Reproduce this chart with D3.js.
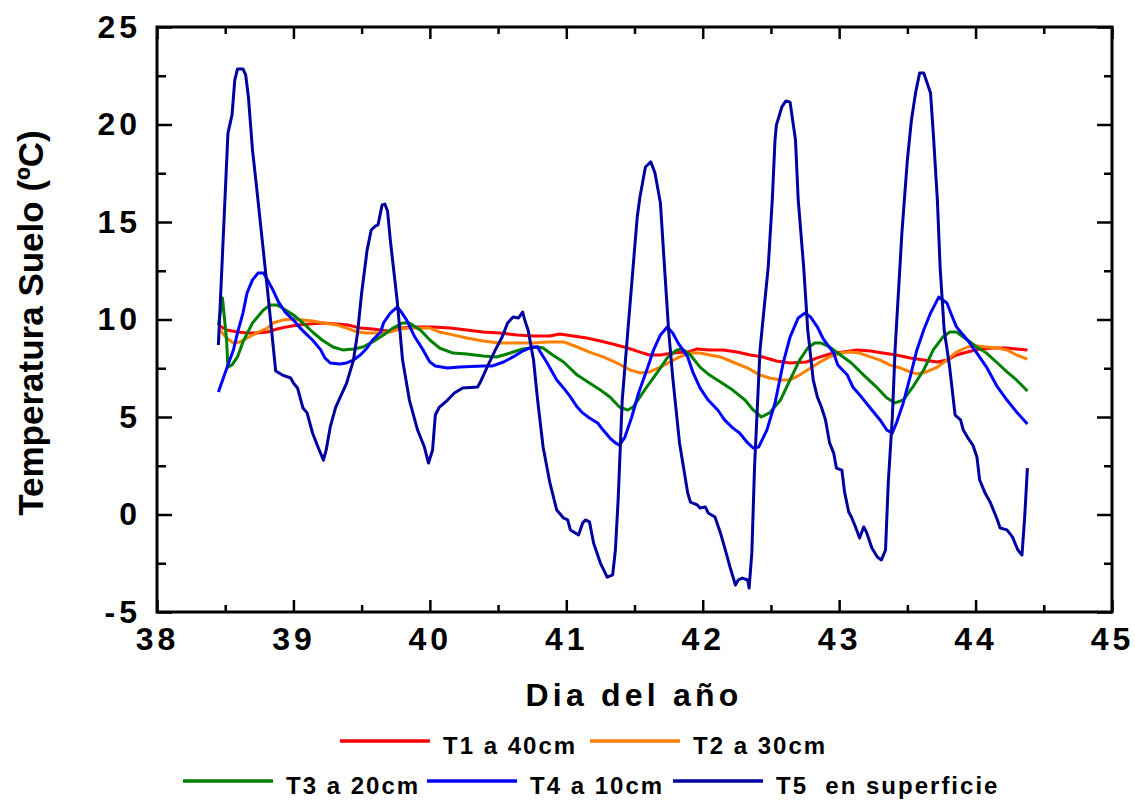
<!DOCTYPE html>
<html>
<head>
<meta charset="utf-8">
<script src="https://cdn.jsdelivr.net/npm/d3@7"></script>
<style>
  body { margin: 0; background: #fff; }
  text { font-family: "Liberation Sans", Arial, Helvetica, sans-serif; font-weight: bold; fill: #000; }
</style>
</head>
<body>
<svg id="chart" width="1135" height="800"></svg>
<script>
// Axis ticks
const xTicks = [38, 39, 40, 41, 42, 43, 44, 45];
const yTicks = [-5, 0, 5, 10, 15, 20, 25];

// Series names and colours
const seriesNames = ["T1 a 40cm", "T2 a 30cm", "T3 a 20cm", "T4 a 10cm", "T5  en superficie"];
const seriesColors = ["#ff0000", "#ff8000", "#008000", "#0000ff", "#0000a0"];

// Soil temperature (ºC) by day of year: [day, temperature]
const t1 = [[38.45,9.72],[38.51,9.46],[38.59,9.36],[38.66,9.31],[38.73,9.31],[38.81,9.36],[38.88,9.51],[38.95,9.62],[39.03,9.72],[39.12,9.77],[39.22,9.82],[39.32,9.77],[39.40,9.72],[39.49,9.56],[39.58,9.51],[39.69,9.41],[39.78,9.56],[39.91,9.62],[40.02,9.62],[40.15,9.56],[40.27,9.46],[40.39,9.36],[40.51,9.31],[40.64,9.21],[40.76,9.15],[40.88,9.15],[40.95,9.26],[41.05,9.15],[41.15,9.05],[41.25,8.90],[41.34,8.74],[41.45,8.54],[41.54,8.33],[41.61,8.18],[41.69,8.18],[41.78,8.28],[41.89,8.33],[41.96,8.49],[42.05,8.44],[42.15,8.44],[42.25,8.33],[42.35,8.18],[42.44,8.08],[42.54,7.87],[42.64,7.77],[42.76,7.82],[42.84,8.03],[42.93,8.23],[43.03,8.33],[43.13,8.44],[43.23,8.38],[43.32,8.28],[43.42,8.18],[43.52,8.03],[43.62,7.92],[43.72,7.82],[43.79,7.92],[43.86,8.18],[43.94,8.33],[44.03,8.49],[44.13,8.54],[44.23,8.54],[44.30,8.49],[44.38,8.44]];

const t2 = [[38.45,9.56],[38.51,9.05],[38.56,8.79],[38.61,8.85],[38.66,9.05],[38.73,9.31],[38.81,9.56],[38.85,9.82],[38.92,9.97],[39.00,10.03],[39.07,9.97],[39.14,9.92],[39.22,9.82],[39.32,9.72],[39.39,9.56],[39.47,9.36],[39.54,9.31],[39.64,9.31],[39.71,9.36],[39.78,9.51],[39.85,9.56],[39.93,9.56],[40.00,9.56],[40.07,9.36],[40.17,9.21],[40.27,9.05],[40.39,8.90],[40.51,8.79],[40.64,8.79],[40.76,8.79],[40.86,8.85],[40.98,8.85],[41.08,8.59],[41.17,8.33],[41.27,8.08],[41.37,7.77],[41.47,7.41],[41.54,7.26],[41.61,7.31],[41.69,7.56],[41.76,7.82],[41.83,8.08],[41.91,8.28],[41.98,8.28],[42.05,8.18],[42.13,8.08],[42.22,7.82],[42.33,7.51],[42.42,7.15],[42.49,7.00],[42.57,6.90],[42.64,6.90],[42.71,7.15],[42.79,7.51],[42.86,7.82],[42.93,8.08],[43.01,8.28],[43.08,8.33],[43.15,8.28],[43.23,8.08],[43.30,7.92],[43.37,7.67],[43.45,7.51],[43.52,7.31],[43.57,7.21],[43.64,7.31],[43.72,7.56],[43.79,7.92],[43.86,8.33],[43.94,8.59],[44.01,8.64],[44.08,8.59],[44.16,8.54],[44.23,8.44],[44.30,8.18],[44.38,7.97]];

const t3 = [[38.45,9.72],[38.48,11.10],[38.51,8.95],[38.52,7.56],[38.55,7.67],[38.59,8.08],[38.63,8.85],[38.70,9.82],[38.78,10.49],[38.83,10.74],[38.88,10.74],[38.92,10.59],[39.00,10.23],[39.07,9.82],[39.14,9.36],[39.21,8.95],[39.29,8.59],[39.36,8.44],[39.44,8.49],[39.51,8.59],[39.58,8.85],[39.66,9.21],[39.73,9.56],[39.80,9.82],[39.85,9.82],[39.93,9.46],[40.00,8.95],[40.07,8.54],[40.17,8.28],[40.27,8.23],[40.39,8.13],[40.49,8.08],[40.59,8.28],[40.68,8.49],[40.79,8.59],[40.83,8.54],[40.90,8.18],[40.98,7.82],[41.08,7.15],[41.17,6.74],[41.25,6.38],[41.32,6.03],[41.39,5.51],[41.45,5.36],[41.49,5.51],[41.54,6.03],[41.60,6.64],[41.67,7.31],[41.74,8.03],[41.81,8.44],[41.85,8.49],[41.91,8.18],[41.98,7.56],[42.05,7.15],[42.13,6.79],[42.22,6.38],[42.31,5.87],[42.37,5.36],[42.43,5.00],[42.49,5.21],[42.57,5.87],[42.64,6.90],[42.71,7.92],[42.77,8.54],[42.82,8.79],[42.87,8.79],[42.93,8.59],[43.01,8.18],[43.09,7.77],[43.18,7.15],[43.28,6.49],[43.35,5.97],[43.41,5.72],[43.47,5.87],[43.54,6.54],[43.62,7.41],[43.69,8.44],[43.76,9.10],[43.81,9.36],[43.86,9.36],[43.92,9.05],[44.01,8.59],[44.08,8.28],[44.16,7.77],[44.23,7.31],[44.30,6.90],[44.38,6.33]];

const t4 = [[38.45,6.28],[38.52,7.67],[38.56,8.44],[38.59,9.31],[38.63,10.33],[38.66,11.36],[38.70,12.03],[38.74,12.38],[38.78,12.38],[38.81,12.03],[38.85,11.51],[38.89,10.90],[38.94,10.38],[39.00,9.97],[39.05,9.56],[39.10,9.21],[39.14,8.95],[39.20,8.44],[39.23,8.03],[39.27,7.77],[39.34,7.72],[39.39,7.77],[39.44,7.92],[39.49,8.18],[39.54,8.54],[39.58,8.95],[39.64,9.36],[39.66,9.82],[39.71,10.33],[39.76,10.64],[39.78,10.49],[39.83,9.97],[39.89,9.10],[39.95,8.44],[40.00,7.82],[40.04,7.62],[40.13,7.51],[40.22,7.56],[40.39,7.62],[40.46,7.62],[40.54,7.82],[40.61,8.08],[40.68,8.38],[40.75,8.59],[40.79,8.59],[40.81,8.33],[40.86,7.77],[40.93,6.90],[40.98,6.49],[41.03,6.03],[41.08,5.51],[41.12,5.21],[41.17,4.95],[41.23,4.69],[41.27,4.33],[41.32,3.92],[41.36,3.67],[41.39,3.56],[41.43,3.97],[41.48,5.00],[41.53,6.23],[41.59,7.41],[41.64,8.44],[41.69,9.21],[41.74,9.62],[41.78,9.31],[41.82,8.79],[41.89,8.08],[41.93,7.26],[41.98,6.49],[42.04,5.87],[42.11,5.36],[42.16,4.85],[42.22,4.44],[42.27,4.18],[42.33,3.67],[42.37,3.41],[42.41,3.46],[42.47,4.33],[42.53,5.72],[42.59,7.77],[42.64,9.10],[42.70,10.08],[42.75,10.33],[42.79,10.13],[42.84,9.62],[42.88,9.05],[42.96,8.28],[42.99,7.67],[43.06,7.15],[43.10,6.54],[43.17,5.97],[43.24,5.36],[43.30,4.85],[43.35,4.33],[43.39,4.18],[43.42,4.69],[43.47,5.72],[43.52,7.05],[43.57,8.44],[43.62,9.46],[43.67,10.33],[43.73,11.15],[43.79,10.85],[43.83,10.13],[43.86,9.62],[43.94,8.95],[44.01,8.28],[44.08,7.56],[44.16,6.54],[44.23,5.87],[44.30,5.26],[44.38,4.64]];

const t5 = [[38.45,8.69],[38.52,19.56],[38.55,20.49],[38.57,22.28],[38.59,22.85],[38.63,22.85],[38.65,22.54],[38.67,21.41],[38.70,18.69],[38.73,16.79],[38.81,11.51],[38.87,7.36],[38.92,7.15],[38.98,7.00],[39.00,6.74],[39.03,6.49],[39.07,5.46],[39.10,5.21],[39.14,4.18],[39.18,3.46],[39.22,2.79],[39.24,3.31],[39.27,4.49],[39.31,5.51],[39.34,5.97],[39.39,6.74],[39.44,7.92],[39.47,9.31],[39.50,11.36],[39.54,13.56],[39.57,14.59],[39.60,14.79],[39.62,14.85],[39.65,15.87],[39.67,15.92],[39.69,15.56],[39.71,14.08],[39.76,11.00],[39.80,7.92],[39.85,5.87],[39.91,4.33],[39.96,3.46],[39.99,2.64],[40.02,3.31],[40.04,5.10],[40.07,5.51],[40.13,5.87],[40.18,6.23],[40.24,6.49],[40.35,6.54],[40.37,6.79],[40.42,7.56],[40.48,8.44],[40.53,9.10],[40.57,9.82],[40.61,10.13],[40.65,10.08],[40.68,10.38],[40.70,9.87],[40.72,9.46],[40.76,7.92],[40.79,5.87],[40.83,3.46],[40.88,1.62],[40.93,0.23],[40.98,-0.18],[41.01,-0.28],[41.03,-0.79],[41.09,-1.05],[41.12,-0.44],[41.14,-0.28],[41.17,-0.38],[41.20,-1.46],[41.25,-2.49],[41.30,-3.21],[41.34,-3.10],[41.36,-1.82],[41.38,0.74],[41.41,5.87],[41.45,9.31],[41.52,15.26],[41.54,16.28],[41.58,17.82],[41.62,18.08],[41.65,17.51],[41.69,15.97],[41.72,12.69],[41.75,9.46],[41.78,7.05],[41.83,3.67],[41.89,1.10],[41.91,0.64],[41.96,0.49],[41.98,0.33],[42.02,0.38],[42.04,0.08],[42.09,-0.13],[42.13,-0.95],[42.16,-1.67],[42.20,-2.69],[42.24,-3.62],[42.26,-3.36],[42.29,-3.26],[42.33,-3.36],[42.34,-3.77],[42.36,-1.97],[42.38,2.44],[42.42,8.44],[42.48,12.69],[42.51,16.13],[42.53,19.21],[42.54,19.97],[42.58,20.90],[42.61,21.21],[42.64,21.15],[42.68,19.21],[42.70,16.13],[42.74,12.69],[42.77,9.46],[42.81,6.90],[42.84,6.03],[42.87,5.51],[42.90,4.85],[42.93,3.67],[42.96,3.15],[42.98,2.38],[43.02,2.28],[43.04,1.15],[43.07,0.13],[43.09,-0.13],[43.12,-0.64],[43.15,-1.21],[43.18,-0.64],[43.20,-0.90],[43.24,-1.72],[43.28,-2.18],[43.31,-2.33],[43.34,-1.82],[43.36,1.62],[43.39,5.00],[43.41,8.44],[43.46,14.44],[43.50,18.18],[43.53,20.23],[43.56,21.62],[43.59,22.64],[43.62,22.64],[43.67,21.62],[43.69,19.56],[43.72,16.13],[43.74,12.69],[43.77,9.46],[43.81,7.56],[43.85,5.10],[43.89,4.85],[43.91,4.33],[43.94,3.97],[43.98,3.56],[44.01,2.95],[44.03,1.77],[44.07,1.10],[44.11,0.59],[44.16,-0.28],[44.18,-0.69],[44.23,-0.79],[44.27,-1.15],[44.31,-1.82],[44.34,-2.08],[44.36,-0.13],[44.38,2.38]];

const series = [t1, t2, t3, t4, t5];

const svg = d3.select("#chart");
const margin = { left: 157, right: 1112, top: 27, bottom: 612 };

const x = d3.scaleLinear().domain([38, 45]).range([margin.left, margin.right]);
const y = d3.scaleLinear().domain([-5, 25]).range([margin.bottom, margin.top]);

// plain hyphen for negative numbers
const intLabel = d => String(d);

const tickFont = g => g.attr("font-family", null).attr("font-size", null)
  .call(s => s.select(".domain").remove())
  .call(s => s.selectAll(".tick line").attr("stroke", "#000").attr("stroke-width", 2.5))
  .call(s => s.selectAll("text")
    .style("font-size", "32px").style("letter-spacing", "4px").attr("fill", "#000"));

const xMinor = d3.range(38.5, 45, 1);
const yMinor = d3.range(-2.5, 25, 5);

// bottom axis
svg.append("g").attr("transform", `translate(0,${margin.bottom})`)
  .call(d3.axisBottom(x).tickValues(xTicks).tickSizeInner(-12).tickSizeOuter(0)
    .tickPadding(15).tickFormat(intLabel))
  .call(tickFont);
svg.append("g").attr("transform", `translate(0,${margin.bottom})`)
  .call(d3.axisBottom(x).tickValues(xMinor).tickSizeInner(-7).tickSizeOuter(0).tickFormat(""))
  .call(tickFont);
// top axis
svg.append("g").attr("transform", `translate(0,${margin.top})`)
  .call(d3.axisTop(x).tickValues(xTicks).tickSizeInner(-12).tickSizeOuter(0).tickFormat(""))
  .call(tickFont);
svg.append("g").attr("transform", `translate(0,${margin.top})`)
  .call(d3.axisTop(x).tickValues(xMinor).tickSizeInner(-7).tickSizeOuter(0).tickFormat(""))
  .call(tickFont);
// left axis
svg.append("g").attr("transform", `translate(${margin.left},0)`)
  .call(d3.axisLeft(y).tickValues(yTicks).tickSizeInner(-15).tickSizeOuter(0)
    .tickPadding(16).tickFormat(intLabel))
  .call(tickFont);
svg.append("g").attr("transform", `translate(${margin.left},0)`)
  .call(d3.axisLeft(y).tickValues(yMinor).tickSizeInner(-9).tickSizeOuter(0).tickFormat(""))
  .call(tickFont);
// right axis
svg.append("g").attr("transform", `translate(${margin.right},0)`)
  .call(d3.axisRight(y).tickValues(yTicks).tickSizeInner(-15).tickSizeOuter(0).tickFormat(""))
  .call(tickFont);
svg.append("g").attr("transform", `translate(${margin.right},0)`)
  .call(d3.axisRight(y).tickValues(yMinor).tickSizeInner(-8).tickSizeOuter(0).tickFormat(""))
  .call(tickFont);

// frame
svg.append("rect")
  .attr("x", margin.left).attr("y", margin.top)
  .attr("width", margin.right - margin.left).attr("height", margin.bottom - margin.top)
  .attr("fill", "none").attr("stroke", "#000").attr("stroke-width", 3);

// data lines
const line = d3.line().x(d => x(d[0])).y(d => y(d[1]));
svg.append("g").selectAll("path").data(series).join("path")
  .attr("d", line)
  .attr("fill", "none")
  .attr("stroke", (d, i) => seriesColors[i])
  .attr("stroke-width", 3)
  .attr("stroke-linejoin", "round");

// axis titles
svg.append("text")
  .attr("x", 634).attr("y", 706)
  .attr("text-anchor", "middle")
  .style("font-size", "32px").style("letter-spacing", "4.2px")
  .text("Dia del año");

svg.append("text")
  .attr("transform", "translate(43,323) rotate(-90)")
  .attr("text-anchor", "middle")
  .style("font-size", "35px")
  .text("Temperatura Suelo (ºC)");

// legend: two rows
const legendRows = [
  { y: 741, items: [[0, 340], [1, 590]] },
  { y: 781, items: [[2, 183], [3, 427], [4, 673]] }
];
legendRows.forEach(row => {
  const g = svg.append("g");
  row.items.forEach(([i, lx]) => {
    g.append("line")
      .attr("x1", lx).attr("x2", lx + 90)
      .attr("y1", row.y).attr("y2", row.y)
      .attr("stroke", seriesColors[i]).attr("stroke-width", 3.5);
    g.append("text")
      .attr("x", lx + 103).attr("y", row.y + 13)
      .style("font-size", "24px").style("letter-spacing", "2px")
      .style("white-space", "pre")
      .text(seriesNames[i]);
  });
});
</script>
</body>
</html>
